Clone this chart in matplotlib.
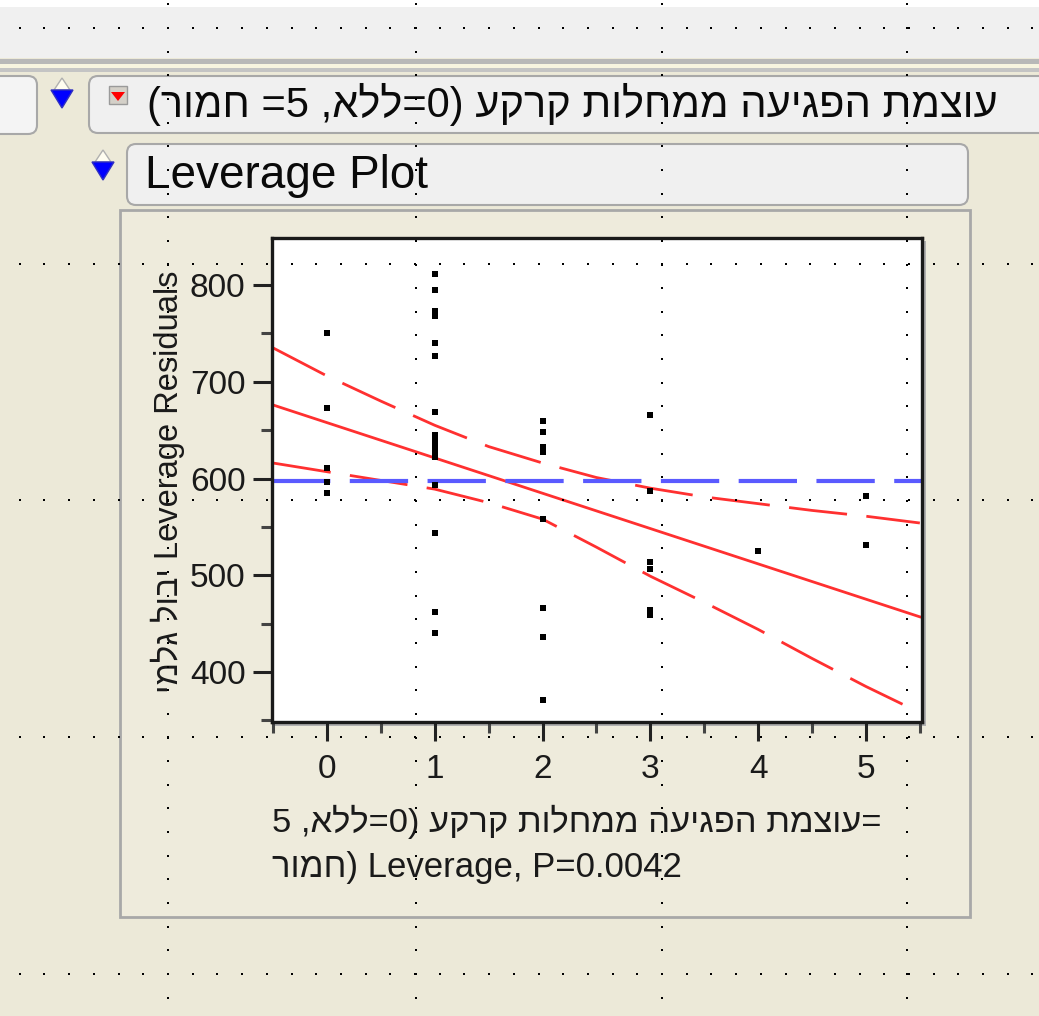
import numpy as np
import matplotlib
matplotlib.use('Agg')
import matplotlib.pyplot as plt
from matplotlib.patches import FancyBboxPatch, Rectangle, Polygon
from matplotlib.ticker import MultipleLocator

plt.rcParams['font.family'] = ['Liberation Sans', 'DejaVu Sans']
plt.rcParams['lines.scale_dashes'] = False

# leverage residuals per severity level (0..5)
severity = [0, 0, 0, 0, 0,
            1, 1, 1, 1, 1, 1, 1, 1, 1, 1, 1, 1, 1, 1, 1, 1, 1, 1, 1, 1,
            2, 2, 2, 2, 2, 2, 2, 2,
            3, 3, 3, 3, 3, 3,
            4,
            5, 5]
resid = [750, 673, 611, 596, 585,
         811, 795, 773, 768, 740, 727, 669, 645, 640, 636, 633, 630, 628, 626, 624, 622, 593, 544, 462, 440,
         659, 648, 633, 627, 558, 466, 436, 371,
         666, 587, 514, 506, 464, 459,
         525,
         582, 531]

# fitted line and confidence curves
fit_x = [-0.5, 5.5]
fit_y = [676, 457]
band_x = [-0.5, 0, 0.5, 1, 1.5, 2, 2.5, 3, 3.5, 4, 4.5, 5, 5.5]
band_hi = [735, 706, 680, 655, 633, 616, 601, 590, 581, 574, 567, 561, 554]
band_lo = [616, 607, 598, 589, 575, 558, 529, 499, 472, 444, 414, 385, 358]
mean_y = 597

title_txt = '(רומח =5 ,אלל=0) עקרק תולחממ העיגפה תמצוע'   # visual order
xlab_1 = '5 ,אלל=0) עקרק תולחממ העיגפה תמצוע='
xlab_2 = 'רומח) Leverage, P=0.0042'
ylab = 'ימלג לובי Leverage Residuals'

W, H = 1039, 1016
beige = '#ECE9D8'
fig = plt.figure(figsize=(W / 100, H / 100), dpi=100, facecolor=beige)

# background layer in pixel coords
bg = fig.add_axes([0, 0, 1, 1], zorder=0)
bg.set_xlim(0, W)
bg.set_ylim(H, 0)
bg.axis('off')

bg.add_patch(Rectangle((0, 0), W, 58, color='#F0F0F0', lw=0))
bg.add_patch(Rectangle((0, 0), W, 7, color='#FFFFFF', lw=0))
bg.add_patch(Rectangle((0, 59), W, 5, color='#B8B8B8', lw=0))
bg.add_patch(Rectangle((0, 64), W, 4, color='#F7F4E0', lw=0))
bg.add_patch(Rectangle((0, 68), W, 4, color='#C4C4C4', lw=0))

# left stub box
bg.add_patch(FancyBboxPatch((-20, 76), 57, 58, boxstyle='round,pad=0,rounding_size=9',
                            fc='#F4F4F4', ec='#A8A8A8', lw=1.5))
# header 1
bg.add_patch(FancyBboxPatch((89, 76), 980, 57, boxstyle='round,pad=0,rounding_size=9',
                            fc='#F0F0F0', ec='#A8A8A8', lw=1.5))
# header 2
bg.add_patch(FancyBboxPatch((127, 144), 841, 61, boxstyle='round,pad=0,rounding_size=9',
                            fc='#F0F0F0', ec='#A8A8A8', lw=1.5))
# plot panel
bg.add_patch(Rectangle((120, 210), 850, 707, fc='#EEEBDC', ec='#A8A8A8', lw=2))
bg.add_patch(Rectangle((275, 241), 651, 485, fc='#B0B0B0', lw=0))


def tri_icon(cx, cy):
    bg.add_patch(Polygon([(cx - 8, cy - 8), (cx + 8, cy - 8), (cx, cy - 20)],
                         closed=True, fc='#FFFDF0', ec='#B0B0B0', lw=1))
    bg.add_patch(Polygon([(cx - 11, cy - 8), (cx + 11, cy - 8), (cx, cy + 10)],
                         closed=True, fc='#0000FF', ec='#3030C0', lw=1))


tri_icon(62, 98)
tri_icon(103, 170)
# red popup button
bg.add_patch(Rectangle((109, 86), 18, 18, fc='#D4D0C8', ec='#9A9A9A', lw=1))
bg.add_patch(Polygon([(111, 92), (125, 92), (118, 101)], closed=True, fc='#FF0000', lw=0))

bg.text(147, 104, title_txt, fontsize=30, ha='left', va='center', color='#0A0A0A')
bg.text(145, 176, 'Leverage Plot', fontsize=33, ha='left', va='center', color='#0A0A0A')
bg.text(272, 822, xlab_1, fontsize=24.8, ha='left', va='center', color='#1A1A1A')
bg.text(272, 868, xlab_2, fontsize=25, ha='left', va='center', color='#1A1A1A')
bg.text(168, 482, ylab, fontsize=23.5, ha='center', va='center', rotation=90, color='#1A1A1A')

# the leverage plot
ax = fig.add_axes([272 / W, 1 - 722 / H, 650 / W, 484 / H], zorder=2)
ax.set_facecolor('white')
ax.plot(band_x, band_hi, color='#FF3030', lw=2, dashes=(42, 14))
ax.plot(band_x, band_lo, color='#FF3030', lw=2, dashes=(42, 14))
ax.plot(fit_x, fit_y, color='#FF3030', lw=2)
ax.axhline(mean_y, color='#5A5AFF', lw=3, dashes=(42, 14))
ax.scatter(severity, resid, s=18, marker='s', color='black', zorder=3, lw=0)

ax.set_xlim(-0.51, 5.52)
ax.set_ylim(348.3, 848.6)
ax.xaxis.set_major_locator(MultipleLocator(1))
ax.xaxis.set_minor_locator(MultipleLocator(0.5))
ax.yaxis.set_major_locator(MultipleLocator(100))
ax.yaxis.set_minor_locator(MultipleLocator(50))
ax.set_yticks([400, 500, 600, 700, 800])
ax.tick_params(axis='both', which='major', length=14, width=2.2, labelsize=24,
               color='#222222', labelcolor='#1A1A1A')
ax.tick_params(axis='both', which='minor', length=8, width=2.2, color='#444444')
ax.tick_params(axis='y', pad=5)
ax.tick_params(axis='x', pad=9)
for s in ax.spines.values():
    s.set_linewidth(2.4)
    s.set_color('#1A1A1A')

# dotted layout grid on top of everything
ov = fig.add_axes([0, 0, 1, 1], zorder=5)
ov.set_xlim(0, W)
ov.set_ylim(H, 0)
ov.axis('off')
ov.patch.set_alpha(0)
cols = [168, 416, 662, 907]
rows = [28, 264, 500, 737, 974]
for yr in rows:
    xs = np.arange(168 - 24.7 * 7, W, 24.7)
    ov.plot(xs, np.full(len(xs), yr), ls='none', marker='s', ms=2, color='black', mew=0)
for xc in cols:
    ys = np.arange(28 - 23.65, H, 23.65)
    ov.plot(np.full(len(ys), xc), ys, ls='none', marker='s', ms=2, color='black', mew=0)

fig.savefig('out.png', dpi=100, facecolor=beige)
